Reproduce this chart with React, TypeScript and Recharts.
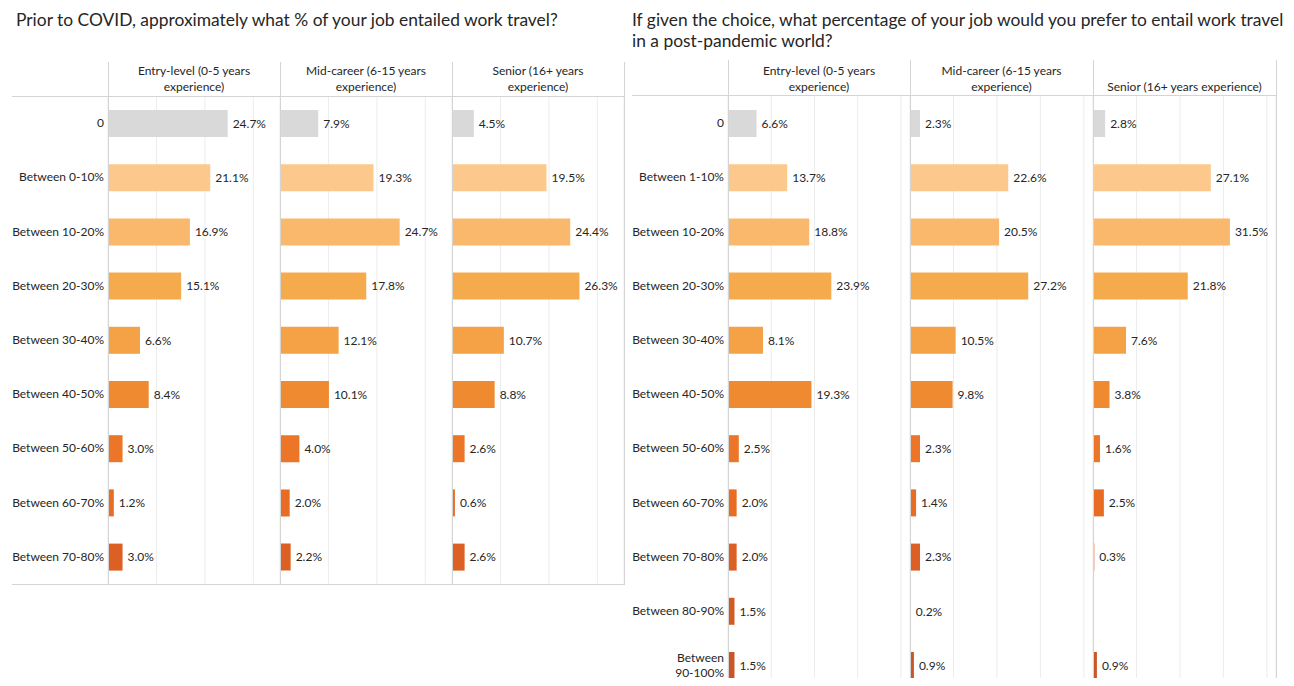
import React from 'react';
import {
  BarChart,
  Bar,
  XAxis,
  YAxis,
  CartesianGrid,
  Cell,
  LabelList,
} from 'recharts';

// Prior to COVID
const beforeCategories = [
  '0',
  'Between 0-10%',
  'Between 10-20%',
  'Between 20-30%',
  'Between 30-40%',
  'Between 40-50%',
  'Between 50-60%',
  'Between 60-70%',
  'Between 70-80%',
];
const beforeEntry = [24.7, 21.1, 16.9, 15.1, 6.6, 8.4, 3.0, 1.2, 3.0];
const beforeMid = [7.9, 19.3, 24.7, 17.8, 12.1, 10.1, 4.0, 2.0, 2.2];
const beforeSenior = [4.5, 19.5, 24.4, 26.3, 10.7, 8.8, 2.6, 0.6, 2.6];

// Post-pandemic preference
const afterCategories = [
  '0',
  'Between 1-10%',
  'Between 10-20%',
  'Between 20-30%',
  'Between 30-40%',
  'Between 40-50%',
  'Between 50-60%',
  'Between 60-70%',
  'Between 70-80%',
  'Between 80-90%',
  'Between\n90-100%',
];
const afterEntry = [6.6, 13.7, 18.8, 23.9, 8.1, 19.3, 2.5, 2.0, 2.0, 1.5, 1.5];
const afterMid = [2.3, 22.6, 20.5, 27.2, 10.5, 9.8, 2.3, 1.4, 2.3, 0.2, 0.9];
const afterSenior = [2.8, 27.1, 31.5, 21.8, 7.6, 3.8, 1.6, 2.5, 0.3, null, 0.9];

const beforeHeaders = ['Entry-level (0-5 years\nexperience)', 'Mid-career (6-15 years\nexperience)', 'Senior (16+ years\nexperience)'];
const afterHeaders = ['Entry-level (0-5 years\nexperience)', 'Mid-career (6-15 years\nexperience)', 'Senior (16+ years experience)'];

const gridTicks = [10, 20, 30, 40];

const rowColors = [
  '#d9d9d9',
  '#fdc88c',
  '#f9b86b',
  '#f5aa4c',
  '#f4a245',
  '#ef8a31',
  '#ec7527',
  '#e86c24',
  '#dc5f23',
  '#d25a25',
  '#c95628',
];

const FONT = 'Lato, "Open Sans", sans-serif';
const TEXT = '#262626';
const FRAME = '#d4d4d4';
const ROW_H = 54.2;

const CategoryTick = (props: any) => {
  const { x, y, payload } = props;
  const lines = String(payload.value).split('\n');
  return (
    <text x={x} y={y} textAnchor="end" fill={TEXT} fontSize={12} fontFamily={FONT}>
      {lines.map((l, i) => (
        <tspan key={i} x={x} dy={i === 0 ? `${0.35 - (lines.length - 1) * 0.6}em` : '1.25em'}>
          {l}
        </tspan>
      ))}
    </text>
  );
};

interface PanelProps {
  categories: string[];
  values: (number | null)[];
  width: number;
  max: number;
  labelWidth?: number;
}

const Panel: React.FC<PanelProps> = ({ categories, values, width, max, labelWidth = 0 }) => {
  const data = categories.map((name, i) => ({ name, value: values[i] }));
  return (
    <BarChart
      width={width + labelWidth}
      height={categories.length * ROW_H}
      data={data}
      layout="vertical"
      margin={{ top: 0, right: 0, bottom: 0, left: 0 }}
      barSize={27}
      style={{ overflow: 'visible' }}
    >
      <CartesianGrid horizontal={false} stroke="#ececec" />
      <XAxis type="number" domain={[0, max]} ticks={gridTicks.filter(t => t < max)} hide allowDataOverflow />
      <YAxis
        type="category"
        dataKey="name"
        width={labelWidth}
        hide={labelWidth === 0}
        axisLine={false}
        tickLine={false}
        tickSize={0}
        tickMargin={4}
        interval={0}
        tick={<CategoryTick />}
      />
      <Bar dataKey="value" isAnimationActive={false}>
        {data.map((d, i) => (
          <Cell key={d.name} fill={rowColors[i]} />
        ))}
        <LabelList
          dataKey="value"
          position="right"
          offset={5}
          fill={TEXT}
          fontSize={12}
          fontFamily={FONT}
          formatter={(v: any) => (v == null ? '' : `${Number(v).toFixed(1)}%`)}
        />
      </Bar>
    </BarChart>
  );
};

const vLine = (x: number, top: number, bottom: number) => (
  <div style={{ position: 'absolute', left: x, top, width: 1, height: bottom - top, background: FRAME }} />
);
const hLine = (y: number, left: number, right: number) => (
  <div style={{ position: 'absolute', left, top: y, width: right - left, height: 1, background: FRAME }} />
);

const Header: React.FC<{ text: string; left: number; width: number }> = ({ text, left, width }) => (
  <div
    style={{
      position: 'absolute',
      left,
      top: 62,
      width,
      height: 34,
      display: 'flex',
      alignItems: 'flex-end',
      justifyContent: 'center',
      textAlign: 'center',
      whiteSpace: 'pre-line',
      fontSize: 12,
      lineHeight: '16px',
      color: TEXT,
      paddingBottom: 1,
      boxSizing: 'border-box',
    }}
  >
    {text}
  </div>
);

const App: React.FC = () => {
  const leftPanels = [108, 280, 452];
  const leftW = 172;
  const rightPanels = [728, 910, 1093];
  const rightW = [182, 183, 183];

  return (
    <div
      style={{
        position: 'relative',
        margin: -8,
        width: 1294,
        height: 686,
        overflow: 'hidden',
        background: '#fff',
        fontFamily: FONT,
        color: TEXT,
      }}
    >
      <div style={{ position: 'absolute', left: 16, top: 9, fontSize: 17.4, lineHeight: '21px', whiteSpace: 'nowrap' }}>
        Prior to COVID, approximately what % of your job entailed work travel?
      </div>
      <div style={{ position: 'absolute', left: 632, top: 9, fontSize: 17.4, lineHeight: '21px', whiteSpace: 'pre-line' }}>
        {'If given the choice, what percentage of your job would you prefer to entail work travel\nin a post-pandemic world?'}
      </div>

      {beforeHeaders.map((h, i) => (
        <Header key={`bh${i}`} text={h} left={leftPanels[i]} width={leftW} />
      ))}
      {afterHeaders.map((h, i) => (
        <Header key={`ah${i}`} text={h} left={rightPanels[i]} width={rightW[i]} />
      ))}

      <div style={{ position: 'absolute', left: 12, top: 96 }}>
        <Panel categories={beforeCategories} values={beforeEntry} width={leftW} max={35.5} labelWidth={96} />
      </div>
      <div style={{ position: 'absolute', left: 280, top: 96 }}>
        <Panel categories={beforeCategories} values={beforeMid} width={leftW} max={35.5} />
      </div>
      <div style={{ position: 'absolute', left: 452, top: 96 }}>
        <Panel categories={beforeCategories} values={beforeSenior} width={leftW} max={35.5} />
      </div>

      <div style={{ position: 'absolute', left: 632, top: 96 }}>
        <Panel categories={afterCategories} values={afterEntry} width={rightW[0]} max={42.1} labelWidth={96} />
      </div>
      <div style={{ position: 'absolute', left: 910, top: 96 }}>
        <Panel categories={afterCategories} values={afterMid} width={rightW[1]} max={42.1} />
      </div>
      <div style={{ position: 'absolute', left: 1093, top: 96 }}>
        <Panel categories={afterCategories} values={afterSenior} width={rightW[2]} max={42.1} />
      </div>

      {/* frame lines */}
      {hLine(96, 12, 625)}
      {hLine(584, 12, 625)}
      {vLine(108, 62, 584)}
      {vLine(280, 62, 584)}
      {vLine(452, 62, 584)}
      {vLine(624, 62, 584)}

      {hLine(95, 632, 1277)}
      {vLine(728, 60, 686)}
      {vLine(910, 60, 686)}
      {vLine(1093, 60, 686)}
      {vLine(1276, 60, 686)}
    </div>
  );
};

export default App;
